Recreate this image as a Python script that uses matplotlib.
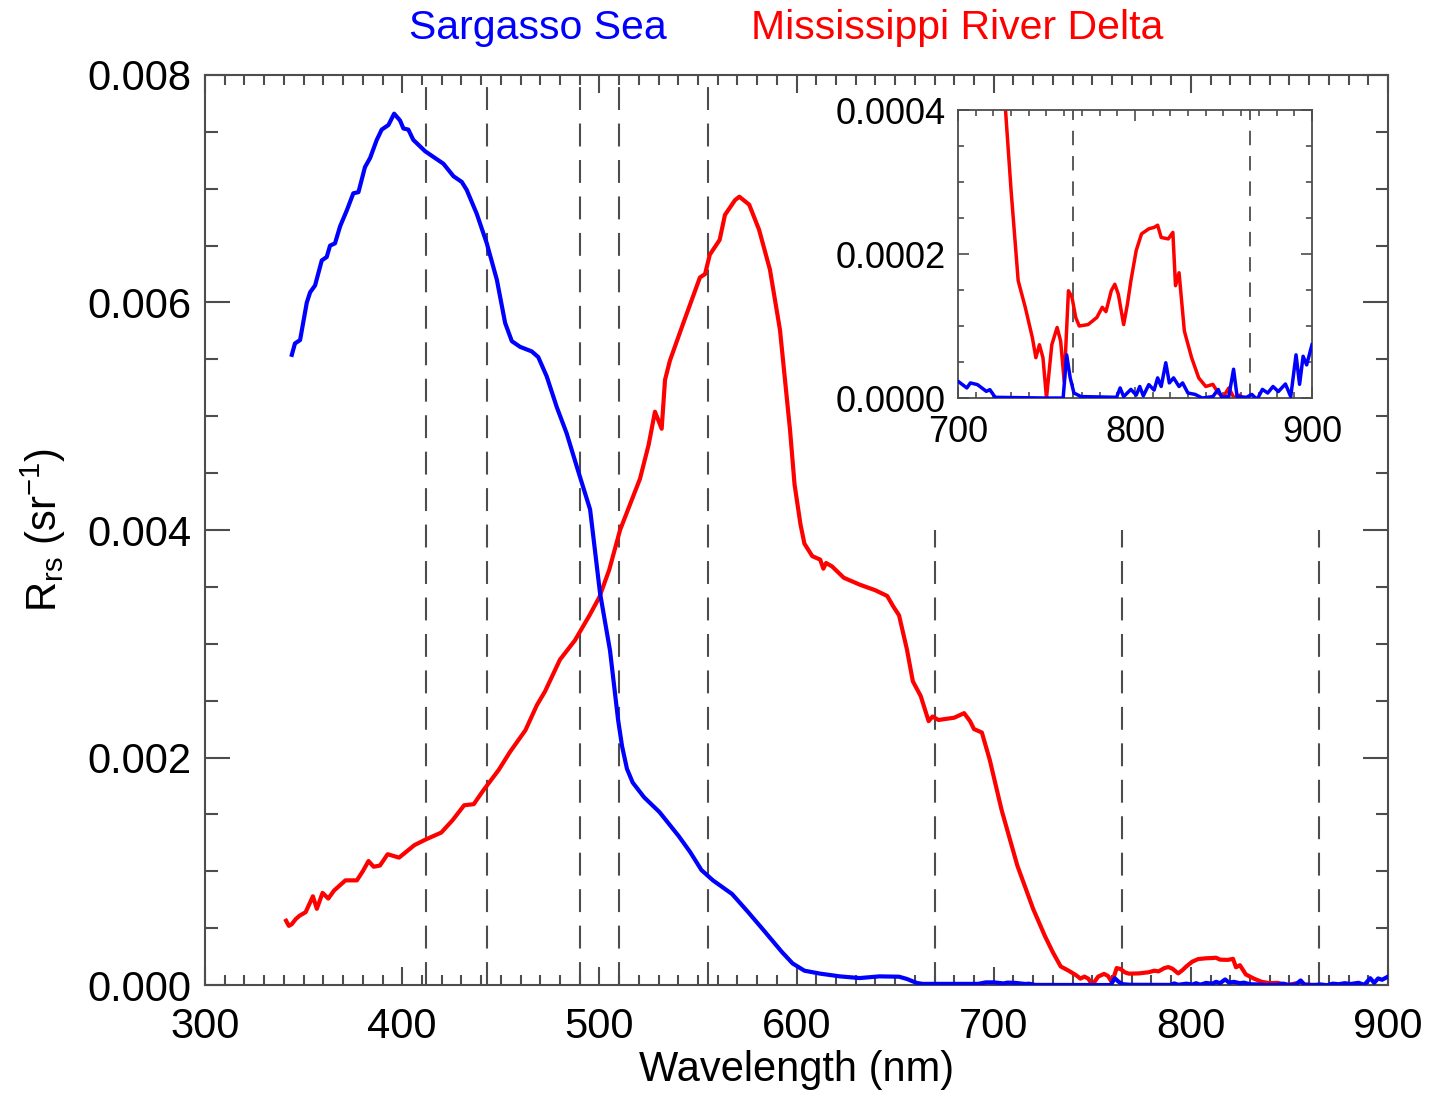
import matplotlib.pyplot as plt
from matplotlib.ticker import MultipleLocator, FormatStrFormatter

# Sargasso Sea (blue)
wl_sargasso = [344, 345.6, 348.2, 351.6, 353.3, 355.8, 359.2, 361.7, 363.4, 365.9,
               368.5, 371.9, 375.2, 377.8, 381.1, 383.7, 387.1, 389.6, 393, 395.9,
               398.9, 400.6, 403.1, 405.6, 411.6, 415.8, 420.9, 426, 430.2, 432.7,
               437.8, 442.9, 448, 452.2, 455.6, 459.8, 465.7, 469, 473.3, 478.4,
               483.4, 488.5, 495.3, 500.3, 505.4, 509.5, 511.5, 514, 516.9, 522.7,
               530.5, 540.2, 546, 551.8, 557.6, 567.3, 575, 582.9, 592.6, 598,
               604, 612, 622, 632, 642, 652, 656, 661, 664, 692,
               696, 700, 705, 707, 711, 716, 718, 721, 749, 759.4,
               761.4, 763.4, 765.5, 769.5, 789.6, 791.6, 793.6, 797.7, 800.7, 802.7,
               804.7, 807.8, 810.8, 812.8, 814.8, 817.4, 819.4, 821.8, 824.9, 826.9,
               829.9, 834, 838, 844, 847, 849, 853, 855.7, 857.7, 863,
               866, 869, 872, 875, 878, 881, 885, 888, 891, 893,
               895, 897, 900]
rrs_sargasso = [0.00554, 0.00564, 0.00567, 0.0060, 0.00609, 0.00615, 0.00637, 0.0064, 0.0065, 0.00652,
                0.00667, 0.00681, 0.00696, 0.00697, 0.00719, 0.00727, 0.00743, 0.00752, 0.00756, 0.00766,
                0.0076, 0.00753, 0.00752, 0.00743, 0.00733, 0.00728, 0.00722, 0.00711, 0.00706, 0.00699,
                0.00678, 0.00652, 0.0062, 0.00582, 0.00566, 0.00561, 0.00557, 0.00552, 0.00535, 0.00508,
                0.00485, 0.00456, 0.00418, 0.00345, 0.00294, 0.00233, 0.0021, 0.0019, 0.00178, 0.00165,
                0.00152, 0.00131, 0.00117, 0.00101, 0.00092, 0.0008, 0.00065, 0.00049, 0.00029, 0.00019,
                0.000126, 0.0001, 0.000076, 0.000061, 0.000076, 0.000073, 0.000053, 0.000018, 0.00001, 0.00001,
                0.000023, 0.0000233, 0.000014, 0.000021, 0.0000186, 0.0000093, 0.0000116, 0.000001, 0.0, 0.0,
                0.00006, 0.000028, 0.000007, 0.000002, 0.000001, 0.000014, 0.000002, 0.000012, 0.000004, 0.000016,
                0.000003, 0.0000186, 0.000011, 0.000028, 0.000016, 0.000049, 0.000021, 0.000028, 0.000016, 0.000021,
                0.000007, 0.000005, 0.0, 0.000002, 0.000012, 0.000001, 0.000002, 0.00004, 0.000002, 0.000001,
                0.000005, -0.000002, 0.000012, 0.000007, 0.000016, 0.000009, 0.0000195, 0.000002, 0.00006, 0.000019,
                0.000058, 0.000046, 0.000074]

# Mississippi River Delta (red)
wl_delta = [341.1, 342.5, 344, 346, 348, 351, 354.7, 356.7, 359.6, 362.5,
            365.4, 368, 371.2, 377, 380, 382.9, 385.5, 388.7, 392.6, 398.4,
            406.2, 412, 419.8, 425.6, 431.4, 436.3, 441.1, 448.9, 454.7, 462.5,
            468.3, 472.4, 480, 487.6, 495, 500, 505, 510.5, 515, 520.6,
            525, 528.2, 531.6, 533.3, 535.8, 542.6, 551, 553.6, 556, 561,
            563.7, 568.8, 571, 576, 581, 586.5, 591.6, 596.7, 599, 602,
            604, 608, 612, 613.6, 615, 618, 624, 632, 640, 646,
            649, 652, 656, 659, 663, 667, 669, 672, 680, 685,
            688, 690, 694, 698, 704, 712, 720, 726, 730, 734,
            738, 742, 744, 746, 748, 750, 753, 756, 758, 760,
            762.4, 764.4, 766.5, 768.5, 773.5, 778.5, 781.5, 783.6, 786.6, 788.6,
            790.6, 793.6, 795.7, 797.7, 800.7, 803.7, 807.8, 810.8, 812.8, 814.8,
            818.8, 821.4, 822.9, 824.9, 827.9, 832, 836, 840, 844, 847,
            850, 853, 856, 859, 861]
rrs_delta = [0.000565, 0.00052, 0.000535, 0.00058, 0.00061, 0.00064, 0.00078, 0.00067, 0.00081, 0.00076,
             0.00083, 0.00087, 0.00092, 0.00092, 0.0010, 0.00109, 0.00104, 0.00105, 0.00115, 0.00112,
             0.00123, 0.00128, 0.00134, 0.00145, 0.00158, 0.00159, 0.00171, 0.00189, 0.00205, 0.00224,
             0.00246, 0.00258, 0.00286, 0.00303, 0.00325, 0.00341, 0.00365, 0.0040, 0.0042, 0.00445,
             0.00475, 0.00504, 0.00489, 0.00532, 0.00549, 0.00582, 0.00622, 0.00625, 0.00642, 0.00655,
             0.00677, 0.0069, 0.00693, 0.00686, 0.00664, 0.00629, 0.00576, 0.00488, 0.0044, 0.00405,
             0.00388, 0.00377, 0.00374, 0.00366, 0.00371, 0.00368, 0.00358, 0.00352, 0.00347, 0.00342,
             0.00333, 0.00325, 0.00295, 0.00267, 0.00254, 0.00232, 0.00236, 0.00233, 0.00235, 0.00239,
             0.00232, 0.00225, 0.00222, 0.00198, 0.00154, 0.00105, 0.00067, 0.00043, 0.000288, 0.000163,
             0.000126, 0.000084, 0.000056, 0.000074, 0.000056, 0.0, 0.000074, 0.000098, 0.000079, 0.000023,
             0.000149, 0.00014, 0.000112, 0.0001, 0.000102, 0.000112, 0.000126, 0.00012, 0.000149, 0.000158,
             0.000144, 0.000102, 0.00013, 0.000163, 0.000205, 0.000228, 0.000235, 0.000237, 0.00024, 0.000223,
             0.000221, 0.00023, 0.000156, 0.000174, 0.000093, 0.000056, 0.000028, 0.000016, 0.000019, 0.000007,
             0.000002, 0.000014, 0.0, 0.000004, 0.0]

# SeaWiFS band centres
bands_full = [412, 443, 490, 510, 555]
bands_nir = [670, 765, 865]
bands_inset = [765, 865]

plt.rcParams['font.family'] = ['Liberation Sans', 'DejaVu Sans']
plt.rcParams['mathtext.fontset'] = 'custom'
plt.rcParams['mathtext.rm'] = 'Liberation Sans'
plt.rcParams['mathtext.it'] = 'Liberation Sans:italic'

frame = '0.3'
dash = (0, (11, 6.5))

fig = plt.figure(figsize=(14.29, 10.98), dpi=100)
ax = fig.add_axes([0.1435, 0.1029, 0.8278, 0.8288])

for b in bands_full:
    ax.plot([b, b], [0, 0.008], color='0.3', lw=1.5, ls=dash, zorder=1)
for b in bands_nir:
    ax.plot([b, b], [0, 0.004], color='0.3', lw=1.5, ls=dash, zorder=1)

ax.plot(wl_sargasso, rrs_sargasso, color='#0000ff', lw=3, zorder=3)
ax.plot(wl_delta, rrs_delta, color='#ff0000', lw=3, zorder=2)

ax.set_xlim(300, 900)
ax.set_ylim(0, 0.008)
ax.xaxis.set_major_locator(MultipleLocator(100))
ax.xaxis.set_minor_locator(MultipleLocator(10))
ax.yaxis.set_major_locator(MultipleLocator(0.002))
ax.yaxis.set_minor_locator(MultipleLocator(0.0005))
ax.yaxis.set_major_formatter(FormatStrFormatter('%.3f'))
ax.tick_params(axis='both', which='both', direction='in', top=True, right=True,
               color=frame, width=1.5, labelsize=30)
ax.tick_params(axis='x', which='major', length=13, pad=16)
ax.tick_params(axis='x', which='minor', length=7)
ax.tick_params(axis='y', which='major', length=18, pad=10)
ax.tick_params(axis='y', which='minor', length=9)
for s in ax.spines.values():
    s.set_color(frame)
    s.set_linewidth(1.5)

ax.set_xlabel('Wavelength (nm)', fontsize=30, labelpad=2)
ax.set_ylabel(r'R$_{\rm rs}$ (sr$^{-1}$)', fontsize=30, labelpad=14)

fig.text(0.3765, 0.9745, 'Sargasso Sea', color='#0000ff', fontsize=29.5, ha='center', va='center')
fig.text(0.6697, 0.9745, 'Mississippi River Delta', color='#ff0000', fontsize=29.5, ha='center', va='center')

# inset: NIR zoom
axi = fig.add_axes([0.6704, 0.6375, 0.2477, 0.2623])
for b in bands_inset:
    axi.plot([b, b], [0, 0.0004], color='0.3', lw=1.3, ls=(0, (8, 6)), zorder=1)
axi.plot(wl_sargasso, rrs_sargasso, color='#0000ff', lw=2.5, zorder=3)
axi.plot(wl_delta, rrs_delta, color='#ff0000', lw=2.5, zorder=2)
axi.set_xlim(700, 900)
axi.set_ylim(0, 0.0004)
axi.xaxis.set_major_locator(MultipleLocator(100))
axi.xaxis.set_minor_locator(MultipleLocator(10))
axi.yaxis.set_major_locator(MultipleLocator(0.0002))
axi.yaxis.set_minor_locator(MultipleLocator(0.00005))
axi.yaxis.set_major_formatter(FormatStrFormatter('%.4f'))
axi.tick_params(axis='both', which='both', direction='in', top=True, right=True,
                color=frame, width=1.2, labelsize=26)
axi.tick_params(axis='both', which='major', length=8)
axi.tick_params(axis='both', which='minor', length=4)
axi.tick_params(axis='x', which='major', pad=12)
axi.tick_params(axis='y', which='major', pad=9)
for s in axi.spines.values():
    s.set_color(frame)
    s.set_linewidth(1.3)

fig.savefig('out.png', dpi=100)
